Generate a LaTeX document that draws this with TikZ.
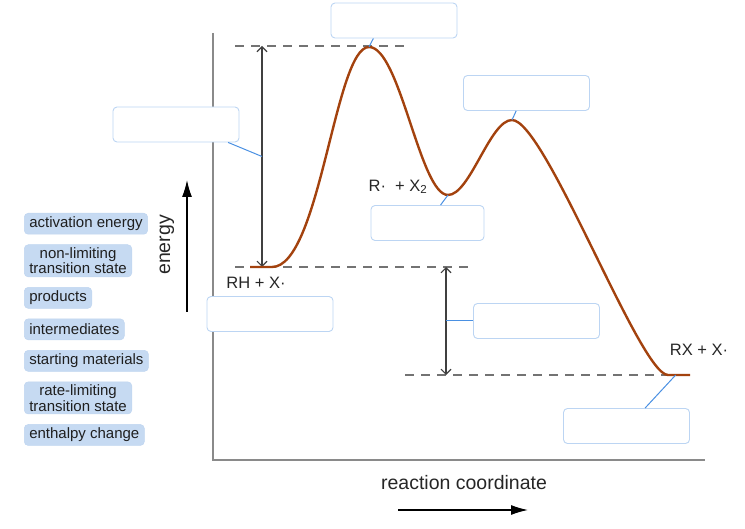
\documentclass[tikz,border=0pt]{standalone}
\usepackage{fontspec}
\setmainfont{Liberation Sans}
\usetikzlibrary{arrows.meta, positioning, calc}
\definecolor{curvebrown}{HTML}{A3420E}
\definecolor{chipblue}{HTML}{C6DAF2}
\definecolor{chipedge}{HTML}{BFD5F0}
\definecolor{boxedge}{HTML}{BCD5F3}
\definecolor{linkblue}{HTML}{4A90E2}
\definecolor{axisgray}{HTML}{8A8A8A}

\begin{document}
\begin{tikzpicture}[
  x=1pt, y=-1pt,
  chip/.style={fill=chipblue, draw=chipedge, rounded corners=4pt, line width=0.5pt, inner xsep=5pt, inner ysep=2.8pt, minimum height=21pt, align=center, font=\fontsize{15}{15.5}\selectfont, text=black!88},
  blank/.style={draw=boxedge, fill=white, rounded corners=4pt, line width=0.9pt, minimum width=126pt, minimum height=35pt},
  lbl/.style={font=\fontsize{16.5}{18}\selectfont, text=black!85},
  axl/.style={font=\fontsize{19.5}{21}\selectfont, text=black!85},
  arr/.style={-{Latex[length=17pt, width=10pt]}, black, line width=1.3pt},
  gap/.style={{Straight Barb[length=5pt, width=10pt]}-{Straight Barb[length=5pt, width=10pt]}, black!75, line width=1.1pt},
  level/.style={dash pattern=on 9pt off 7pt, black!55, line width=1.1pt},
  link/.style={linkblue, line width=1pt},
  curve/.style={curvebrown, line width=2.4pt}
]
\useasboundingbox (0,0) rectangle (745,529);

% axes
\draw[axisgray, line width=2pt] (213,33) -- (213,460) -- (705,460);
\coordinate (ya) at (187,312); \coordinate (yb) at (187,180);
\coordinate (xa) at (398,510); \coordinate (xb) at (528,510);
\draw[arr] (ya) -- (yb);
\draw[arr] (xa) -- (xb);
\node[axl, rotate=90] (ylab) at (167,245) {energy};
\node[axl] (xlab) at (464,483) {reaction coordinate};

% energy levels
\coordinate (s0) at (250,267); \coordinate (s1) at (272,267);
\coordinate (p1) at (369,47);  \coordinate (v1) at (448,195);
\coordinate (p2) at (512,120); \coordinate (e0) at (668,375);
\coordinate (e1) at (690,375);
\draw[level] (235,46) -- (405,46);
\draw[level] (235,267) -- (473,267);
\draw[level] (405,375) -- (e0);
\coordinate (ht) at (262,46);  \coordinate (hb) at (262,267);
\coordinate (dt) at (446,267); \coordinate (db) at (446,375);
\draw[gap] (ht) -- (hb);
\draw[gap] (dt) -- (db);

% profile
\draw[curve] (s0) -- (s1) .. controls (320,267) and (335,47) .. (p1)
  .. controls (400,47) and (420,195) .. (v1)
  .. controls (470,195) and (490,120) .. (p2)
  .. controls (545,120) and (640,375) .. (e0) -- (e1);

\node[lbl] (rh) at (256,283) {RH + X·};
\node[lbl] (rx2) at (398,187) {R·\ \ + X\textsubscript{2}};
\node[lbl] (rx) at (699,350) {RX + X·};

% answer boxes
\node[blank] (b1) at (394,20.5) {};
\node[blank] (b2) at (176,124.5) {};
\node[blank] (b3) at (526.5,93) {};
\node[blank, minimum width=113pt] (b4) at (427.5,223) {};
\node[blank] (b5) at (270,314) {};
\node[blank] (b6) at (536.5,321) {};
\node[blank] (b7) at (626.5,426) {};

\draw[link] (b1.221) -- (p1);
\draw[link] (b2.341) -- ($(ht)!0.5!(hb)$);
\draw[link] (b3.240) -- (p2);
\draw[link] (b4.54) -- (v1);
\draw[link] ($(dt)!0.5!(db)$) -- (b6.west);
\draw[link] (b7.44) -- ($(e0)!0.35!(e1)$);

% label chips
\node[chip, anchor=north west] (c1) at (24,213) {activation energy};
\node[chip, below=10pt of c1.south west, anchor=north west] (c2) {non-limiting\\transition state};
\node[chip, below=10pt of c2.south west, anchor=north west] (c3) {products};
\node[chip, below=10pt of c3.south west, anchor=north west] (c4) {intermediates};
\node[chip, below=10pt of c4.south west, anchor=north west] (c5) {starting materials};
\node[chip, below=10pt of c5.south west, anchor=north west] (c6) {rate-limiting\\transition state};
\node[chip, below=10pt of c6.south west, anchor=north west] (c7) {enthalpy change};
\end{tikzpicture}
\end{document}
